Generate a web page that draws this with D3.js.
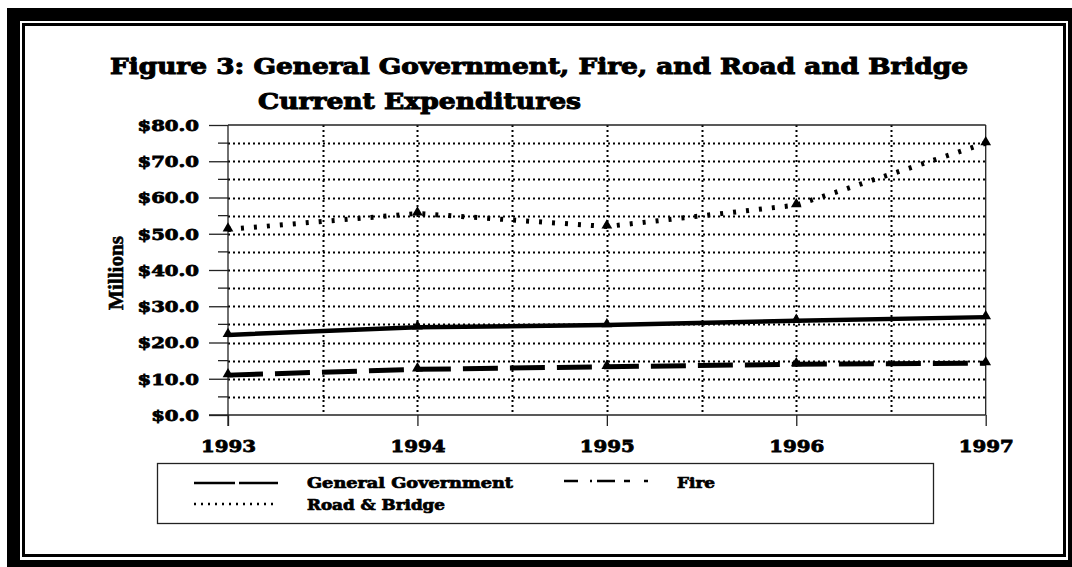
<!DOCTYPE html>
<html>
<head>
<meta charset="utf-8">
<script src="https://cdn.jsdelivr.net/npm/d3@7"></script>
<style>
html,body{margin:0;padding:0;background:#fff;}
svg{display:block;}
</style>
</head>
<body>
<svg id="chart" width="1072" height="567"></svg>
<script>
// ---- data ----
const years = [1993, 1994, 1995, 1996, 1997];
const generalGovernment = [22.1, 24.2, 24.8, 26.0, 27.0];
const fire = [11.0, 12.6, 13.3, 14.0, 14.3];
const roadBridge = [51.2, 55.6, 52.0, 57.9, 75.0];
const yTickValues = [0, 10, 20, 30, 40, 50, 60, 70, 80];
const yTickLabels = ["$0.0", "$10.0", "$20.0", "$30.0", "$40.0", "$50.0", "$60.0", "$70.0", "$80.0"];
const titleLines = ["Figure 3: General Government, Fire, and Road and Bridge", "Current Expenditures"];
const yAxisTitle = "Millions";
const seriesNames = ["General Government", "Fire", "Road & Bridge"];

const svg = d3.select("#chart");
const serif = "'DejaVu Serif', serif";

// ---- frame ----
svg.append("rect").attr("x", 7).attr("y", 8).attr("width", 1072).attr("height", 567).attr("fill", "#000");
svg.append("rect").attr("x", 20).attr("y", 21).attr("width", 1048).attr("height", 539).attr("fill", "#fff");
svg.append("rect").attr("x", 23.5).attr("y", 24.5).attr("width", 1041).attr("height", 531)
  .attr("fill", "#fff").attr("stroke", "#000").attr("stroke-width", 3);

// stretched, heavy text helper
function stretchText(sel, width) {
  sel.attr("textLength", width).attr("lengthAdjust", "spacingAndGlyphs");
}
function heavy(sel, w) {
  sel.attr("stroke", "#000").attr("stroke-width", w).attr("paint-order", "stroke");
}

// ---- title ----
const t1 = svg.append("text").attr("x", 110).attr("y", 74)
  .attr("font-family", serif).attr("font-weight", "bold").attr("font-size", 22).text(titleLines[0]);
stretchText(t1, 858); heavy(t1, 1);
const t2 = svg.append("text").attr("x", 258).attr("y", 108.5)
  .attr("font-family", serif).attr("font-weight", "bold").attr("font-size", 22).text(titleLines[1]);
stretchText(t2, 323); heavy(t2, 1);

// ---- scales ----
const x = d3.scaleLinear().domain([1993, 1997]).range([228, 985.7]);
const y = d3.scaleLinear().domain([0, 80]).range([415, 125]);

const plot = svg.append("g");

// grid: horizontal every 5, vertical every half year
const hGrid = d3.range(5, 80, 5);
plot.selectAll(".hg").data(hGrid).enter().append("line")
  .attr("x1", x(1993)).attr("x2", x(1997))
  .attr("y1", d => Math.round(y(d)) + 0.5).attr("y2", d => Math.round(y(d)) + 0.5)
  .attr("stroke", "#000").attr("stroke-width", 2).attr("stroke-dasharray", "2,3");
const vGrid = d3.range(1993.5, 1997, 0.5);
plot.selectAll(".vg").data(vGrid).enter().append("line")
  .attr("x1", d => Math.round(x(d)) + 0.5).attr("x2", d => Math.round(x(d)) + 0.5)
  .attr("y1", y(80)).attr("y2", y(0))
  .attr("stroke", "#000").attr("stroke-width", 2).attr("stroke-dasharray", "2,3");

// plot border top / right
plot.append("line").attr("x1", x(1993)).attr("x2", x(1997)).attr("y1", y(80)).attr("y2", y(80))
  .attr("stroke", "#222").attr("stroke-width", 1.3);
plot.append("line").attr("x1", x(1997)).attr("x2", x(1997)).attr("y1", y(80)).attr("y2", y(0))
  .attr("stroke", "#222").attr("stroke-width", 1.3);

// ---- y axis ----
const yAxis = d3.axisLeft(y).tickValues(yTickValues).tickSize(19).tickPadding(10)
  .tickFormat((d, i) => yTickLabels[i]);
const yg = svg.append("g").attr("transform", `translate(${x(1993)},0)`).call(yAxis);
yg.select(".domain").attr("d", `M0,${y(80)}V${y(0) + 11}`).attr("stroke", "#222").attr("stroke-width", 1.3);
yg.selectAll(".tick line").attr("stroke", "#222").attr("stroke-width", 1.3);
yg.selectAll(".tick text").attr("font-family", serif).attr("font-weight", "bold")
  .attr("font-size", 15).attr("fill", "#000").attr("dy", "0.36em")
  .each(function () {
    const n = this.getComputedTextLength();
    stretchText(d3.select(this), n * 1.31);
    heavy(d3.select(this), 0.8);
  });
// minor ticks
const minor = d3.range(5, 80, 10);
svg.selectAll(".minor").data(minor).enter().append("line")
  .attr("x1", x(1993) - 10).attr("x2", x(1993))
  .attr("y1", d => y(d)).attr("y2", d => y(d))
  .attr("stroke", "#222").attr("stroke-width", 1.3);

// ---- x axis ----
const xAxis = d3.axisBottom(x).tickValues(years).tickSize(11).tickPadding(14).tickFormat(d3.format("d"));
const xg = svg.append("g").attr("transform", `translate(0,${y(0)})`).call(xAxis);
xg.select(".domain").attr("d", `M${x(1993) - 19},0H${x(1997)}`).attr("stroke", "#222").attr("stroke-width", 1.3);
xg.selectAll(".tick line").attr("stroke", "#222").attr("stroke-width", 1.3);
xg.selectAll(".tick text").attr("font-family", serif).attr("font-weight", "bold")
  .attr("font-size", 17).attr("fill", "#000")
  .each(function () { stretchText(d3.select(this), 55); heavy(d3.select(this), 0.8); });

// y axis title
svg.append("text").attr("transform", `translate(123,273) rotate(-90)`)
  .attr("text-anchor", "middle").attr("font-family", "'Liberation Serif', serif")
  .attr("font-weight", "bold").attr("font-size", 21).text(yAxisTitle)
  .each(function () { stretchText(d3.select(this), 74); heavy(d3.select(this), 0.6); });

// ---- series ----
const seriesData = [
  { name: seriesNames[0], values: generalGovernment, width: 4.5, dash: null },
  { name: seriesNames[1], values: fire, width: 5, dash: "35,12" },
  { name: seriesNames[2], values: roadBridge, width: 5, dash: "3,10" }
];
const line = d3.line().x((d, i) => x(years[i])).y(d => y(d));
seriesData.forEach(s => {
  svg.append("path").datum(s.values).attr("d", line)
    .attr("fill", "none").attr("stroke", "#000").attr("stroke-width", s.width)
    .attr("stroke-dasharray", s.dash);
  svg.selectAll(null).data(s.values).enter().append("path")
    .attr("d", d3.symbol(d3.symbolTriangle, 50))
    .attr("transform", (d, i) => `translate(${x(years[i])},${y(d) - 1})`)
    .attr("fill", "#000");
});

// ---- legend ----
const lg = svg.append("g");
lg.append("rect").attr("x", 157.5).attr("y", 463.5).attr("width", 776).attr("height", 60)
  .attr("fill", "#fff").attr("stroke", "#222").attr("stroke-width", 1.3);
const legendItems = [
  { name: seriesNames[0], lx: 194, ly: 483, tx: 307, ty: 488, tw: 206, width: 2.5, dash: "41,4" },
  { name: seriesNames[1], lx: 564, ly: 481, tx: 677, ty: 488, tw: 38, width: 2.5, dash: "14,12,2,5,18,9,6" },
  { name: seriesNames[2], lx: 194, ly: 504, tx: 307, ty: 510, tw: 138, width: 2.5, dash: "2,5" }
];
legendItems.forEach(it => {
  lg.append("line").attr("x1", it.lx).attr("x2", it.lx + 84).attr("y1", it.ly).attr("y2", it.ly)
    .attr("stroke", "#000").attr("stroke-width", it.width).attr("stroke-dasharray", it.dash);
  const tt = lg.append("text").attr("x", it.tx).attr("y", it.ty)
    .attr("font-family", serif).attr("font-weight", "bold").attr("font-size", 14).text(it.name);
  stretchText(tt, it.tw); heavy(tt, 0.7);
});
</script>
</body>
</html>
